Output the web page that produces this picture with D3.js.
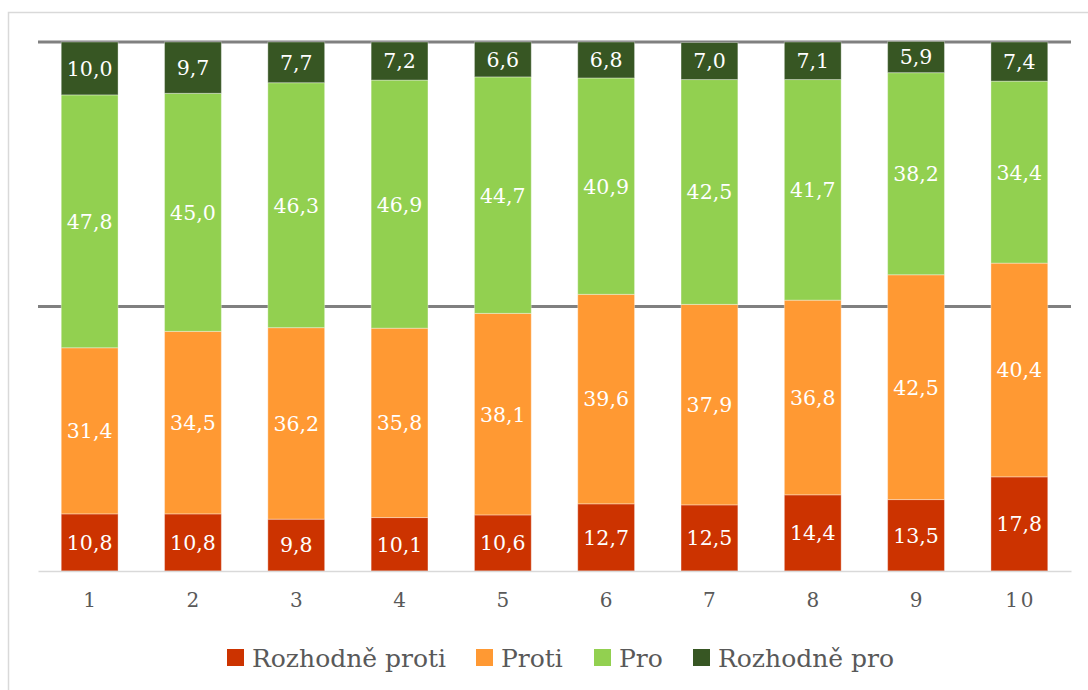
<!DOCTYPE html>
<html>
<head>
<meta charset="utf-8">
<script src="https://cdn.jsdelivr.net/npm/d3@7"></script>
<style>
  body { margin: 0; background: #fff; }
  svg { display: block; }
  svg text { font-family: 'DejaVu Serif', serif; }
</style>
</head>
<body>
<div id="chart"></div>
<script>
const categories = ['1', '2', '3', '4', '5', '6', '7', '8', '9', '10']
const rozhodneProti = [10.8, 10.8, 9.8, 10.1, 10.6, 12.7, 12.5, 14.4, 13.5, 17.8]
const proti = [31.4, 34.5, 36.2, 35.8, 38.1, 39.6, 37.9, 36.8, 42.5, 40.4]
const pro = [47.8, 45.0, 46.3, 46.9, 44.7, 40.9, 42.5, 41.7, 38.2, 34.4]
const rozhodnePro = [10.0, 9.7, 7.7, 7.2, 6.6, 6.8, 7.0, 7.1, 5.9, 7.4]
const seriesNames = ['Rozhodně proti', 'Proti', 'Pro', 'Rozhodně pro']
const colors = ['#cc3300', '#ff9933', '#92d050', '#375623']

const width = 1088, height = 690
const margin = ({ top: 42, right: 17, bottom: 119, left: 38 })

const table = categories.map((c, i) => ({
    cat: c,
    'Rozhodně proti': rozhodneProti[i],
    'Proti': proti[i],
    'Pro': pro[i],
    'Rozhodně pro': rozhodnePro[i]
}))
const stacked = d3.stack().keys(seriesNames)(table)

const svg = d3.select('#chart').append('svg')
    .attr('width', width)
    .attr('height', height)

// chart frame (runs off the right and bottom edges)
svg.append('rect')
    .attr('x', 8.5).attr('y', 12.5)
    .attr('width', 1200).attr('height', 800)
    .attr('fill', 'none')
    .attr('stroke', '#d9d9d9')
    .attr('stroke-width', 1.5)

const x = d3.scaleBand()
    .domain(categories)
    .range([margin.left, width - margin.right])
    .paddingInner(0.45)
    .paddingOuter(0.225)
const y = d3.scaleLinear()
    .domain([0, 100])
    .range([height - margin.bottom, margin.top])

// grid lines at 50 and 100
svg.append('g')
    .selectAll('line')
    .data([50, 100])
    .join('line')
    .attr('x1', margin.left).attr('x2', width - margin.right)
    .attr('y1', d => y(d)).attr('y2', d => y(d))
    .attr('stroke', '#808080')
    .attr('stroke-width', 3)

svg.append('g')
    .selectAll('g')
    .data(stacked)
    .join('g')
    .attr('fill', (d, i) => colors[i])
    .selectAll('rect')
    .data(d => d)
    .join('rect')
    .attr('x', d => x(d.data.cat))
    .attr('width', x.bandwidth())
    .attr('y', d => y(d[1]))
    .attr('height', d => y(d[0]) - y(d[1]))
    .attr('stroke', '#fff')
    .attr('stroke-opacity', 0.35)
    .attr('stroke-width', 1)

// value labels
const fmt = v => d3.format('.1f')(v).replace('.', ',')
svg.append('g')
    .selectAll('g')
    .data(stacked)
    .join('g')
    .selectAll('text')
    .data(d => d.map(s => ({ s, key: d.key })))
    .join('text')
    .attr('x', d => x(d.s.data.cat) + x.bandwidth() / 2)
    .attr('y', d => (y(d.s[0]) + y(d.s[1])) / 2)
    .attr('dy', '0.36em')
    .attr('text-anchor', 'middle')
    .attr('fill', '#fff')
    .style('font-size', '20.5px')
    .text(d => fmt(d.s.data[d.key]))

// x axis
const xAxis = g => g
    .attr('transform', `translate(0,${y(0)})`)
    .call(d3.axisBottom(x).tickSize(0).tickPadding(22))
    .call(g => g.select('.domain').attr('stroke', '#d9d9d9').attr('stroke-width', 1.5))
    .call(g => g.selectAll('text')
        .attr('fill', '#595959')
        .attr('font-family', null)
        .attr('dx', 1.5)
        .style('font-size', '20px')
        .style('letter-spacing', '3px'))
svg.append('g').call(xAxis)

// legend
const legendX = [227, 476, 594, 693]
const legend = svg.append('g')
    .selectAll('g')
    .data(seriesNames)
    .join('g')
    .attr('transform', (d, i) => `translate(${legendX[i]},658)`)
legend.append('rect')
    .attr('x', 0).attr('y', -9)
    .attr('width', 17).attr('height', 17)
    .attr('fill', (d, i) => colors[i])
legend.append('text')
    .attr('x', 25)
    .attr('dy', '0.36em')
    .attr('fill', '#595959')
    .style('font-size', '25px')
    .text(d => d)
</script>
</body>
</html>
